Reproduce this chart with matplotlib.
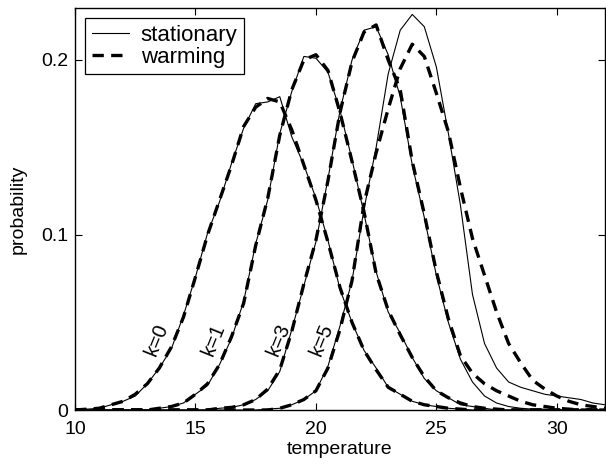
import numpy as np
import matplotlib
matplotlib.use("Agg")
import matplotlib.pyplot as plt

plt.rcParams['font.family'] = ['Liberation Sans', 'DejaVu Sans']

# temperature grid (bin centres)
temperature = np.arange(10, 32.01, 0.5)

# probability curves, stationary and warming, for k = 0, 1, 3, 5
stat_k0 = [0, 0.0005, 0.001, 0.003, 0.005, 0.008, 0.015, 0.024, 0.035, 0.054,
           0.076, 0.101, 0.119, 0.141, 0.161, 0.175, 0.176, 0.179, 0.156, 0.140,
           0.121, 0.097, 0.069, 0.050, 0.034, 0.024, 0.013, 0.009, 0.005, 0.003,
           0.002, 0.001, 0.0005, 0, 0, 0, 0, 0, 0, 0, 0, 0, 0, 0, 0]
warm_k0 = [0, 0.0005, 0.001, 0.003, 0.005, 0.009, 0.015, 0.024, 0.036, 0.053,
           0.076, 0.100, 0.120, 0.140, 0.162, 0.173, 0.178, 0.176, 0.160, 0.140,
           0.120, 0.096, 0.070, 0.050, 0.034, 0.023, 0.013, 0.009, 0.005, 0.003,
           0.002, 0.001, 0.0005, 0, 0, 0, 0, 0, 0, 0, 0, 0, 0, 0, 0]
stat_k1 = [0, 0, 0, 0, 0, 0, 0, 0.001, 0.002, 0.004,
           0.009, 0.014, 0.026, 0.041, 0.062, 0.095, 0.120, 0.158, 0.182, 0.202,
           0.201, 0.193, 0.171, 0.143, 0.112, 0.079, 0.056, 0.044, 0.030, 0.018,
           0.011, 0.007, 0.003, 0.002, 0.001, 0, 0, 0, 0, 0, 0, 0, 0, 0, 0]
warm_k1 = [0, 0, 0, 0, 0, 0, 0, 0.001, 0.002, 0.004,
           0.009, 0.015, 0.026, 0.042, 0.061, 0.094, 0.121, 0.157, 0.183, 0.200,
           0.203, 0.194, 0.170, 0.142, 0.113, 0.078, 0.057, 0.043, 0.030, 0.019,
           0.011, 0.007, 0.004, 0.002, 0.001, 0.0005, 0, 0, 0, 0, 0, 0, 0, 0, 0]
stat_k3 = [0, 0, 0, 0, 0, 0, 0, 0, 0, 0,
           0, 0, 0.001, 0.0015, 0.003, 0.006, 0.011, 0.022, 0.046, 0.071,
           0.096, 0.132, 0.171, 0.200, 0.217, 0.219, 0.203, 0.179, 0.140, 0.110,
           0.077, 0.050, 0.029, 0.016, 0.008, 0.004, 0.002, 0.001, 0.0005, 0.0005,
           0, 0, 0, 0, 0]
warm_k3 = [0, 0, 0, 0, 0, 0, 0, 0, 0, 0,
           0, 0, 0.001, 0.0015, 0.003, 0.006, 0.012, 0.023, 0.045, 0.072,
           0.097, 0.131, 0.170, 0.199, 0.216, 0.220, 0.200, 0.183, 0.142, 0.112,
           0.079, 0.052, 0.031, 0.021, 0.015, 0.011, 0.008, 0.005, 0.003, 0.002,
           0.001, 0.0005, 0, 0, 0]
stat_k5 = [0, 0, 0, 0, 0, 0, 0, 0, 0, 0,
           0, 0, 0, 0, 0, 0, 0.0005, 0.001, 0.003, 0.006,
           0.011, 0.025, 0.048, 0.074, 0.115, 0.150, 0.192, 0.217, 0.226, 0.219,
           0.196, 0.158, 0.117, 0.066, 0.038, 0.024, 0.016, 0.013, 0.011, 0.009,
           0.008, 0.007, 0.006, 0.004, 0.003]
warm_k5 = [0, 0, 0, 0, 0, 0, 0, 0, 0, 0,
           0, 0, 0, 0, 0, 0, 0, 0.001, 0.003, 0.006,
           0.011, 0.024, 0.046, 0.074, 0.118, 0.147, 0.172, 0.195, 0.209, 0.202,
           0.181, 0.159, 0.127, 0.098, 0.077, 0.056, 0.038, 0.027, 0.017, 0.012,
           0.008, 0.005, 0.003, 0.002, 0.001]

stationary = [stat_k0, stat_k1, stat_k3, stat_k5]
warming = [warm_k0, warm_k1, warm_k3, warm_k5]

k_labels = ["k=0", "k=1", "k=3", "k=5"]
label_x = [13.4, 15.75, 18.45, 20.25]
label_y = [0.040, 0.040, 0.040, 0.040]

fig = plt.figure(figsize=(6.06, 4.68), dpi=100)
ax = fig.add_axes([0.1238, 0.1239, 0.8745, 0.8591])

for i in range(4):
  ax.plot(temperature, stationary[i], color="black", lw=0.8,
          label="stationary" if i == 0 else None)
  ax.plot(temperature, warming[i], color="black", lw=2.4,
          dashes=(3.4, 2.2), label="warming" if i == 0 else None)

for lab, lx, ly in zip(k_labels, label_x, label_y):
  ax.text(lx, ly, lab, rotation=68, fontsize=14.5, ha="center", va="center")

ax.set_xlim(10, 32)
ax.set_ylim(0, 0.2297)
ax.set_xticks([10, 15, 20, 25, 30])
ax.set_yticks([0, 0.1, 0.2])
ax.set_yticklabels(["0", "0.1", "0.2"])
ax.tick_params(direction="in", top=True, right=True, length=5, width=0.8,
               labelsize=14)
ax.tick_params(axis="x", pad=8)
ax.tick_params(axis="y", pad=5)
for sp in ax.spines.values():
  sp.set_linewidth(1.0)
ax.set_xlabel("temperature", fontsize=14, labelpad=2)
ax.set_ylabel("probability", fontsize=14, labelpad=10)

leg = ax.legend(loc="upper left", fontsize=16, fancybox=False, framealpha=1,
                edgecolor="black", handlelength=1.7, borderaxespad=0.45,
                borderpad=0.3, labelspacing=0.05, handletextpad=0.5)
leg.get_frame().set_linewidth(0.9)

fig.savefig("out.png", dpi=100)
